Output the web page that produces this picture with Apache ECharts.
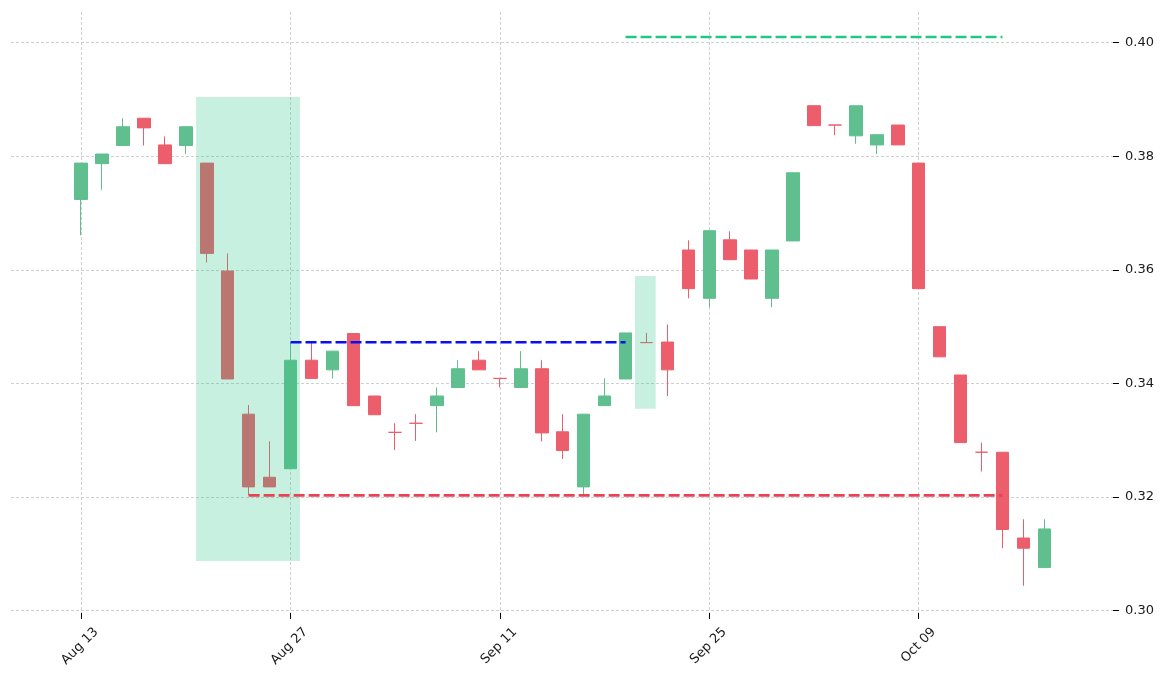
<!DOCTYPE html>
<html>
<head>
<meta charset="utf-8">
<script src="https://cdn.jsdelivr.net/npm/echarts@6/dist/echarts.min.js"></script>
<style>
html,body{margin:0;padding:0;background:#fff;}
#chart{width:1171px;height:678px;}
</style>
</head>
<body>
<div id="chart"></div>
<script>
// ---- data ----
const dates = ['2018-08-13','2018-08-14','2018-08-15','2018-08-16','2018-08-17',
  '2018-08-20','2018-08-21','2018-08-22','2018-08-23','2018-08-24',
  '2018-08-27','2018-08-28','2018-08-29','2018-08-30','2018-08-31',
  '2018-09-04','2018-09-05','2018-09-06','2018-09-07',
  '2018-09-10','2018-09-11','2018-09-12','2018-09-13','2018-09-14',
  '2018-09-17','2018-09-18','2018-09-19','2018-09-20','2018-09-21',
  '2018-09-24','2018-09-25','2018-09-26','2018-09-27','2018-09-28',
  '2018-10-01','2018-10-02','2018-10-03','2018-10-04','2018-10-05',
  '2018-10-08','2018-10-09','2018-10-10','2018-10-11','2018-10-12',
  '2018-10-15','2018-10-16','2018-10-17'];
const opens  = [0.3724,0.3787,0.3819,0.3867,0.3820,0.3819,0.3788,0.3598,0.3346,0.3235,
  0.3250,0.3441,0.3424,0.3488,0.3378,0.3314,0.3330,0.3361,0.3393,0.3441,
  0.3409,0.3393,0.3426,0.3315,0.3218,0.3361,0.3408,0.3472,0.3473,0.3635,
  0.3550,0.3653,0.3635,0.3550,0.3651,0.3889,0.3855,0.3836,0.3820,0.3855,
  0.3788,0.3500,0.3415,0.3279,0.3279,0.3128,0.3076];
const closes = [0.3788,0.3804,0.3852,0.3850,0.3787,0.3852,0.3629,0.3408,0.3218,0.3218,
  0.3441,0.3409,0.3457,0.3361,0.3345,0.3314,0.3330,0.3378,0.3426,0.3424,
  0.3409,0.3426,0.3313,0.3282,0.3346,0.3378,0.3489,0.3472,0.3424,0.3567,
  0.3669,0.3618,0.3584,0.3635,0.3771,0.3854,0.3855,0.3889,0.3838,0.3820,
  0.3567,0.3447,0.3296,0.3279,0.3143,0.3110,0.3144];
const lows   = [0.3661,0.3741,0.3819,0.3819,0.3787,0.3804,0.3613,0.3408,0.3203,0.3218,
  0.3250,0.3409,0.3409,0.3361,0.3345,0.3283,0.3299,0.3314,0.3393,0.3424,
  0.3393,0.3393,0.3298,0.3267,0.3205,0.3361,0.3408,0.3472,0.3378,0.3550,
  0.3534,0.3618,0.3584,0.3534,0.3651,0.3854,0.3837,0.3822,0.3804,0.3820,
  0.3567,0.3447,0.3296,0.3245,0.3110,0.3044,0.3076];
const highs  = [0.3788,0.3804,0.3867,0.3867,0.3835,0.3852,0.3788,0.3629,0.3362,0.3298,
  0.3472,0.3472,0.3457,0.3488,0.3378,0.3330,0.3346,0.3393,0.3441,0.3457,
  0.3409,0.3457,0.3441,0.3346,0.3346,0.3409,0.3489,0.3489,0.3504,0.3652,
  0.3669,0.3668,0.3635,0.3635,0.3771,0.3889,0.3855,0.3889,0.3838,0.3855,
  0.3788,0.3500,0.3415,0.3296,0.3279,0.3161,0.3161];

const xTickIdx = [0, 10, 20, 30, 40];
const yTicks = [0.30, 0.32, 0.34, 0.36, 0.38, 0.40];

// highlighted zones (candle index range and price range)
const zoneStart = [5.49, 26.45];
const zoneEnd   = [10.45, 27.44];
const zoneLow   = [0.30875, 0.33556];
const zoneHigh  = [0.39044, 0.35893];

// horizontal levels
const levelNames = ['resistance', 'support', 'target'];
const levelValue = [0.34725, 0.3203, 0.4010];
const levelFrom  = [10, 8, 26];
const levelTo    = [26, 44, 44];

// ---- chart ----
const MONTHS = ['Jan','Feb','Mar','Apr','May','Jun','Jul','Aug','Sep','Oct','Nov','Dec'];
function fmtDate(i) {
  const d = dates[Math.round(i)];
  if (!d) return '';
  const p = d.split('-');
  return MONTHS[parseInt(p[1], 10) - 1] + ' ' + p[2];
}

const xMin = -3.35, xMax = 49.28;
const labelShift = 0.72;
const UP = '#60bf8e', DOWN = '#ec5e6b';
const levelColors = ['#0a0ff0', '#eb4153', '#20c884'];
const FONT = 'DejaVu Sans';

const candleData = dates.map((d, i) => [i, opens[i], closes[i], lows[i], highs[i]]);
const zoneData = zoneStart.map((s, i) => [s, zoneEnd[i], zoneLow[i], zoneHigh[i]]);

const series = [
  {
    type: 'candlestick',
    xAxisIndex: 0, yAxisIndex: 0,
    data: candleData,
    barWidth: 13,
    z: 2,
    itemStyle: {
      color: UP, color0: DOWN,
      borderColor: UP, borderColor0: DOWN,
      borderColorDoji: DOWN,
      borderWidth: 1
    }
  },
  {
    type: 'custom',
    xAxisIndex: 0, yAxisIndex: 0,
    z: 3,
    encode: { x: [0, 1], y: [2, 3] },
    data: zoneData,
    renderItem: function (params, api) {
      const p0 = api.coord([api.value(0), api.value(3)]);
      const p1 = api.coord([api.value(1), api.value(2)]);
      return {
        type: 'rect',
        shape: { x: p0[0], y: p0[1], width: p1[0] - p0[0], height: p1[1] - p0[1] },
        style: { fill: 'rgba(35,195,131,0.25)' }
      };
    }
  }
];
levelValue.forEach((v, i) => {
  series.push({
    type: 'line',
    name: levelNames[i],
    xAxisIndex: 0, yAxisIndex: 0,
    z: 4,
    symbol: 'none',
    data: [[levelFrom[i], v], [levelTo[i], v]],
    lineStyle: { color: levelColors[i], width: 2.6, type: [11, 4] }
  });
});

const chart = echarts.init(document.getElementById('chart'));
chart.setOption({
  animation: false,
  backgroundColor: '#ffffff',
  grid: { left: 11, right: 58, top: 12, bottom: 65 },
  xAxis: [
    {
      type: 'value',
      min: xMin, max: xMax,
      position: 'bottom',
      axisLine: { show: false, onZero: false },
      axisTick: { show: true, length: 6, customValues: xTickIdx, lineStyle: { color: '#000', width: 1 } },
      axisLabel: { show: false, customValues: xTickIdx },
      splitLine: { show: true, lineStyle: { color: '#c4c4c4', width: 0.8, type: [3, 2] } }
    },
    {
      type: 'value',
      min: xMin - labelShift, max: xMax - labelShift,
      position: 'bottom',
      axisLine: { show: false, onZero: false },
      axisTick: { show: false, customValues: xTickIdx },
      splitLine: { show: false },
      axisLabel: {
        customValues: xTickIdx,
        rotate: 45,
        margin: 17,
        fontFamily: FONT,
        fontSize: 13,
        color: '#1a1a1a',
        formatter: v => fmtDate(v)
      }
    }
  ],
  yAxis: {
    type: 'value',
    position: 'right',
    min: 0.2996, max: 0.4054,
    axisLine: { show: false, onZero: false },
    axisTick: { show: true, length: 6, customValues: yTicks, lineStyle: { color: '#000', width: 1 } },
    axisLabel: {
      customValues: yTicks,
      margin: 12,
      fontFamily: FONT,
      fontSize: 13,
      color: '#1a1a1a',
      formatter: v => v.toFixed(2)
    },
    splitLine: { show: true, lineStyle: { color: '#c4c4c4', width: 0.8, type: [3, 2] } }
  },
  series: series
});
</script>
</body>
</html>
